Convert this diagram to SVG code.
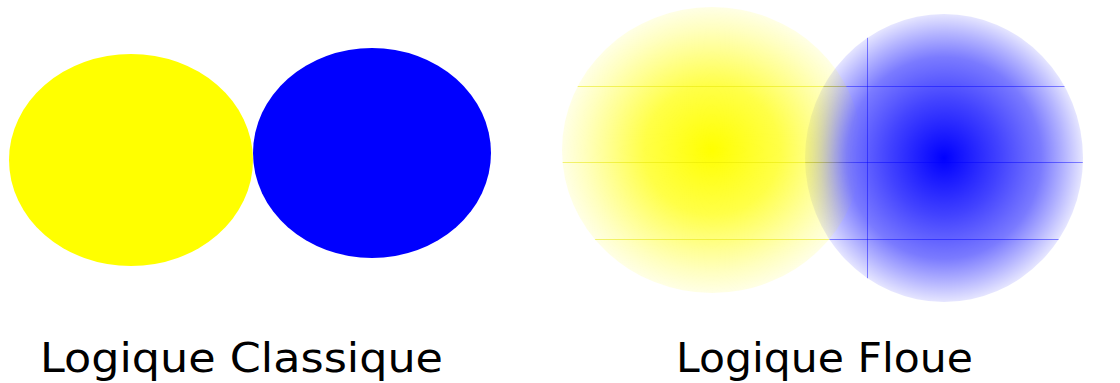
<svg xmlns="http://www.w3.org/2000/svg" width="1120" height="383" viewBox="0 0 1120 383">
  <style>
    .label { font-family: "DejaVu Sans", Verdana, sans-serif; font-size: 40px; fill: #000; }
  </style>
  <defs>
    <radialGradient id="fy" cx="0.5" cy="0.5" r="0.5">
      <stop offset="0" stop-color="#ffff00" stop-opacity="1"/>
      <stop offset="0.45" stop-color="#ffff00" stop-opacity="0.72"/>
      <stop offset="0.7" stop-color="#ffff00" stop-opacity="0.42"/>
      <stop offset="0.85" stop-color="#ffff00" stop-opacity="0.25"/>
      <stop offset="1" stop-color="#ffff00" stop-opacity="0.1"/>
    </radialGradient>
    <radialGradient id="fb" cx="0.5" cy="0.5" r="0.5">
      <stop offset="0" stop-color="#0000ff" stop-opacity="1"/>
      <stop offset="0.4" stop-color="#0000ff" stop-opacity="0.74"/>
      <stop offset="0.7" stop-color="#0000ff" stop-opacity="0.52"/>
      <stop offset="0.86" stop-color="#0000ff" stop-opacity="0.3"/>
      <stop offset="1" stop-color="#0000ff" stop-opacity="0.1"/>
    </radialGradient>
    <filter id="soft" x="-20%" y="-20%" width="140%" height="140%">
      <feGaussianBlur stdDeviation="13"/>
    </filter>
    <mask id="ymask" maskUnits="userSpaceOnUse" x="0" y="0" width="1120" height="383">
      <rect x="0" y="0" width="1120" height="383" fill="#fff"/>
      <ellipse cx="946" cy="158" rx="112" ry="118" fill="#000" filter="url(#soft)"/>
    </mask>
    <clipPath id="cy"><ellipse cx="712" cy="150" rx="150" ry="143"/></clipPath>
    <clipPath id="cb"><ellipse cx="944" cy="158" rx="139" ry="144"/></clipPath>
  </defs>

  <g id="classique-jaune">
    <ellipse cx="131" cy="160" rx="122" ry="106" fill="#ffff00"/>
  </g>
  <g id="classique-bleu">
    <ellipse cx="372" cy="153" rx="119" ry="105" fill="#0000ff"/>
  </g>

  <g id="floue-bleu">
    <ellipse cx="944" cy="158" rx="139" ry="144" fill="url(#fb)"/>
    <g clip-path="url(#cb)" stroke="#0000ff" stroke-opacity="0.45" stroke-width="1">
      <line x1="800" y1="86.5" x2="1090" y2="86.5"/>
      <line x1="800" y1="162.5" x2="1090" y2="162.5"/>
      <line x1="800" y1="239.5" x2="1090" y2="239.5"/>
      <line x1="867.5" y1="10" x2="867.5" y2="305"/>
    </g>
  </g>
  <g id="floue-jaune" mask="url(#ymask)">
    <ellipse cx="712" cy="150" rx="150" ry="143" fill="url(#fy)"/>
    <g clip-path="url(#cy)" stroke="#e6e600" stroke-opacity="0.5" stroke-width="1">
      <line x1="560" y1="86.5" x2="870" y2="86.5"/>
      <line x1="560" y1="162.5" x2="870" y2="162.5"/>
      <line x1="560" y1="239.5" x2="870" y2="239.5"/>
    </g>
  </g>

  <g id="labels">
    <text class="label" x="40" y="372" textLength="403" lengthAdjust="spacingAndGlyphs">Logique Classique</text>
    <text class="label" x="676" y="372" textLength="297" lengthAdjust="spacingAndGlyphs">Logique Floue</text>
  </g>
</svg>
